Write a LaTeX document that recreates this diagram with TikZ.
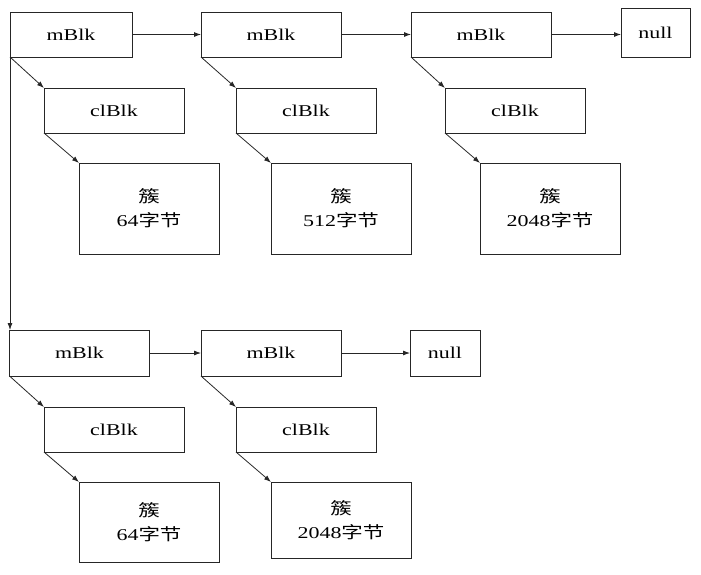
\documentclass[tikz,border=0pt]{standalone}
\usepackage{fontspec}
\setmainfont{Liberation Serif}[FakeStretch=1.33]
\newfontfamily\cjk{Noto Sans CJK SC}[FakeStretch=1.3]
\usetikzlibrary{arrows.meta}
\begin{document}
\begin{tikzpicture}[x=1pt,y=-1pt,
  box/.style={draw=black!85,line width=1pt,inner sep=0pt,outer sep=0pt,
    minimum width=140pt,minimum height=45pt,font=\fontsize{16.5}{24}\selectfont,align=center},
  arr/.style={draw=black!85,line width=0.8pt,-{Latex[length=7pt,width=5pt]}}]
\useasboundingbox (0,0) rectangle (701,574);
% row 1
\node[box,minimum width=122pt] (m1) at (71,34.5) {mBlk};
\node[box] (m2) at (271,34.5) {mBlk};
\node[box] (m3) at (481,34.5) {mBlk};
\node[box,minimum width=69pt,minimum height=49pt] (n1) at (655.5,33) {null};
\node[box] (c1) at (114,110.5) {clBlk};
\node[box] (c2) at (306,110.5) {clBlk};
\node[box] (c3) at (515,110.5) {clBlk};
\node[box,minimum height=91pt] (k1) at (149,208.5) {{\cjk 簇}\\64{\cjk 字节}};
\node[box,minimum height=91pt] (k2) at (341,208.5) {{\cjk 簇}\\512{\cjk 字节}};
\node[box,minimum height=91pt] (k3) at (550,208.5) {{\cjk 簇}\\2048{\cjk 字节}};
% row 2
\node[box,minimum height=46pt] (m4) at (79.5,353) {mBlk};
\node[box,minimum height=46pt] (m5) at (271,353) {mBlk};
\node[box,minimum width=70pt,minimum height=46pt] (n2) at (445,353) {null};
\node[box] (c4) at (114,429.5) {clBlk};
\node[box] (c5) at (306,429.5) {clBlk};
\node[box,minimum height=80pt] (k4) at (149,522) {{\cjk 簇}\\64{\cjk 字节}};
\node[box,minimum height=76pt] (k5) at (341,520) {{\cjk 簇}\\2048{\cjk 字节}};
% connectors
\draw[arr] (m1.east) -- (m2.west);
\draw[arr] (m2.east) -- (m3.west);
\draw[arr] (m3.east) -- (m3.east -| n1.west);
\draw[arr] (m1.south west) -- (c1.north west);
\draw[arr] (m2.south west) -- (c2.north west);
\draw[arr] (m3.south west) -- (c3.north west);
\draw[arr] (c1.south west) -- (k1.north west);
\draw[arr] (c2.south west) -- (k2.north west);
\draw[arr] (c3.south west) -- (k3.north west);
\draw[arr] (m1.south west) -- (m1.south west |- m4.north);
\draw[arr] (m4.east) -- (m5.west);
\draw[arr] (m5.east) -- (n2.west);
\draw[arr] (m4.south west) -- (c4.north west);
\draw[arr] (m5.south west) -- (c5.north west);
\draw[arr] (c4.south west) -- (k4.north west);
\draw[arr] (c5.south west) -- (k5.north west);
\end{tikzpicture}
\end{document}
